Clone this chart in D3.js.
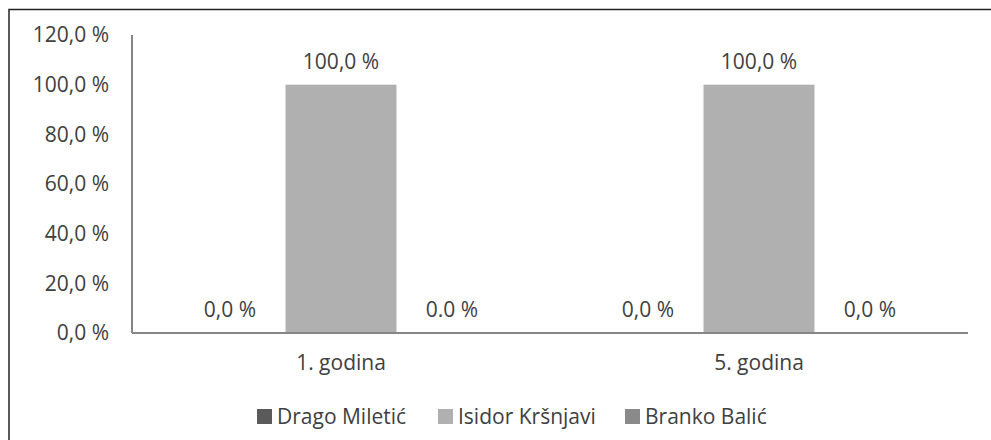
<!DOCTYPE html>
<html>
<head>
<meta charset="utf-8">
<script src="https://cdn.jsdelivr.net/npm/d3@7"></script>
<style>
	body { margin: 0; background: #fff; }
	text { font-family: "Open Sans", sans-serif; fill: #404040; }
</style>
</head>
<body>
<svg class="chart"></svg>
<script>

// chart data
var categories = ["1. godina", "5. godina"];
var series = ["Drago Miletić", "Isidor Kršnjavi", "Branko Balić"];
var values = [
	[0, 100, 0],
	[0, 100, 0]
];
var valueLabels = [
	["0,0 %", "100,0 %", "0.0 %"],
	["0,0 %", "100,0 %", "0,0 %"]
];
var yTicks = [0, 20, 40, 60, 80, 100, 120];
var colors = ["#5a5a5a", "#b0b0b0", "#8a8a8a"];

var width = 991, height = 440;
var plotLeft = 132, plotRight = 968, plotTop = 35, plotBottom = 333;
var fontSize = "21px";

var svg = d3.select("svg.chart")
	.attr("width", width)
	.attr("height", height);

// frame (top and left edges only)
svg.append("path")
	.attr("d", "M9,440V9.5H991")
	.attr("fill", "none")
	.attr("stroke", "#222")
	.attr("stroke-width", 1.5);

// scales
var x0 = d3.scaleBand()
	.domain(categories)
	.range([plotLeft, plotRight]);

var x1 = d3.scaleBand()
	.domain(series)
	.range([0, x0.bandwidth()])
	.paddingOuter(0.383);

var y = d3.scaleLinear()
	.domain([0, 120])
	.range([plotBottom, plotTop]);

var fmt = d3.format(".1f");

// y tick labels
svg.append("g")
	.selectAll("text")
	.data(yTicks)
	.enter()
	.append("text")
	.attr("x", 109)
	.attr("y", function(d) { return y(d); })
	.attr("dy", "0.35em")
	.attr("text-anchor", "end")
	.style("font-size", fontSize)
	.text(function(d) { return fmt(d).replace(".", ",") + " %"; });

// bars
var groups = svg.append("g")
	.selectAll("g")
	.data(categories)
	.enter()
	.append("g")
	.attr("transform", function(d) { return "translate(" + x0(d) + ",0)"; });

groups.selectAll("rect")
	.data(function(d, i) { return values[i]; })
	.enter()
	.append("rect")
	.attr("x", function(d, j) { return x1(series[j]); })
	.attr("y", function(d) { return y(d); })
	.attr("width", x1.bandwidth())
	.attr("height", function(d) { return plotBottom - y(d); })
	.attr("fill", function(d, j) { return colors[j]; });

// value labels
groups.selectAll("text.val")
	.data(function(d, i) {
		return values[i].map(function(v, j) { return {v: v, label: valueLabels[i][j], j: j}; });
	})
	.enter()
	.append("text")
	.attr("class", "val")
	.attr("x", function(d) { return x1(series[d.j]) + x1.bandwidth() / 2; })
	.attr("y", function(d) { return y(d.v) - 16; })
	.attr("text-anchor", "middle")
	.style("font-size", fontSize)
	.text(function(d) { return d.label; });

// axes lines
svg.append("line")
	.attr("x1", plotLeft).attr("x2", plotLeft)
	.attr("y1", plotTop).attr("y2", plotBottom)
	.attr("stroke", "#868686")
	.attr("stroke-width", 2);

svg.append("line")
	.attr("x1", plotLeft).attr("x2", plotRight)
	.attr("y1", plotBottom).attr("y2", plotBottom)
	.attr("stroke", "#868686")
	.attr("stroke-width", 2);

// category labels
svg.append("g")
	.selectAll("text")
	.data(categories)
	.enter()
	.append("text")
	.attr("x", function(d) { return x0(d) + x0.bandwidth() / 2; })
	.attr("y", 370)
	.attr("text-anchor", "middle")
	.style("font-size", fontSize)
	.text(function(d) { return d; });

// legend
var legendX = [257, 438, 625];
var legend = svg.append("g")
	.selectAll("g")
	.data(series)
	.enter()
	.append("g")
	.attr("transform", function(d, i) { return "translate(" + legendX[i] + ",409)"; });

legend.append("rect")
	.attr("width", 15)
	.attr("height", 15)
	.attr("fill", function(d, i) { return colors[i]; });

legend.append("text")
	.attr("x", 20)
	.attr("y", 15)
	.style("font-size", fontSize)
	.text(function(d) { return d; });

</script>
</body>
</html>
